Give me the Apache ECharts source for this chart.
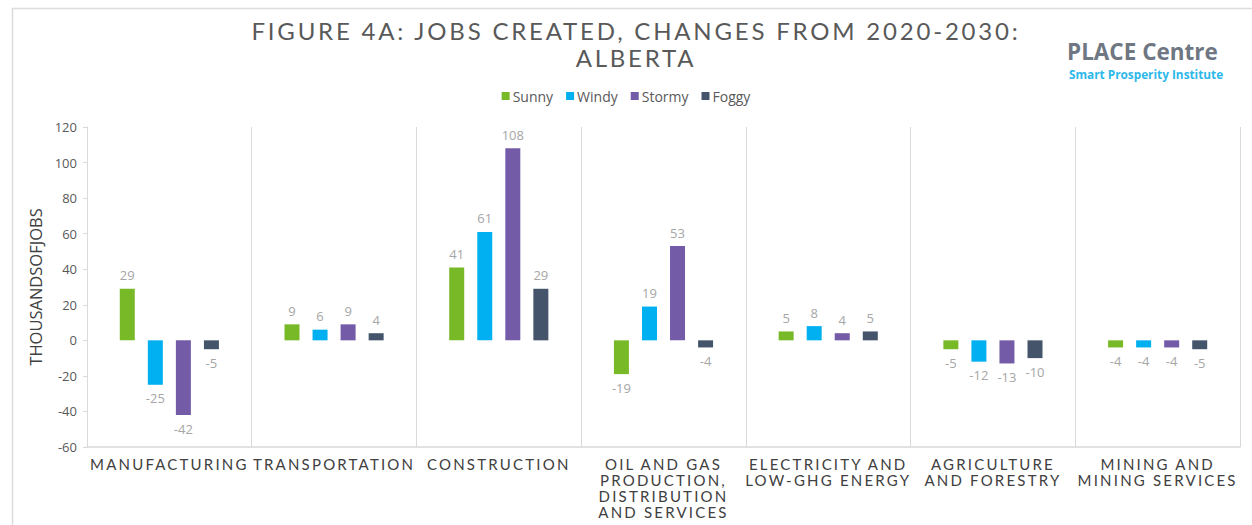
<!DOCTYPE html>
<html>
<head>
<meta charset="utf-8">
<script src="https://cdn.jsdelivr.net/npm/echarts@6/dist/echarts.min.js"></script>
<style>
  html, body { margin: 0; padding: 0; background: #ffffff; }
  #chart { width: 1252px; height: 525px; }
</style>
</head>
<body>
<div id="chart"></div>
<script>
// Sector categories (line breaks as they wrap under the axis)
const categories = [
  'MANUFACTURING',
  'TRANSPORTATION',
  'CONSTRUCTION',
  'OIL AND GAS\nPRODUCTION,\nDISTRIBUTION\nAND SERVICES',
  'ELECTRICITY AND\nLOW-GHG ENERGY',
  'AGRICULTURE\nAND FORESTRY',
  'MINING AND\nMINING SERVICES'
];

// Jobs created 2020-2030, thousands, per scenario
const sunny  = [29, 9, 41, -19, 5, -5, -4];
const windy  = [-25, 6, 61, 19, 8, -12, -4];
const stormy = [-42, 9, 108, 53, 4, -13, -4];
const foggy  = [-5, 4, 29, -4, 5, -10, -5];

// Y axis ticks
const yTicks = [-60, -40, -20, 0, 20, 40, 60, 80, 100, 120];

const seriesDefs = [
  { name: 'Sunny',  values: sunny,  color: '#78b928' },
  { name: 'Windy',  values: windy,  color: '#00b0f0' },
  { name: 'Stormy', values: stormy, color: '#735ba7' },
  { name: 'Foggy',  values: foggy,  color: '#44546a' }
];

const SPACED = 'Lato';

const chart = echarts.init(document.getElementById('chart'), null, { renderer: 'svg' });

const option = {
  animation: false,
  backgroundColor: '#ffffff',
  textStyle: { fontFamily: 'Open Sans' },
  graphic: [
    {
      type: 'rect', silent: true, z: -1,
      shape: { x: 12.5, y: 8.5, width: 1260, height: 540 },
      style: { fill: 'none', stroke: '#dcdcdc', lineWidth: 1.5 }
    },
    {
      type: 'text', x: 636, y: 18, silent: true,
      style: {
        text: 'FIGURE 4A: JOBS CREATED, CHANGES FROM 2020-2030:',
        fontFamily: SPACED, fontSize: 24,
        fill: '#595959', align: 'center', verticalAlign: 'top'
      }
    },
    {
      type: 'text', x: 636, y: 45, silent: true,
      style: {
        text: 'ALBERTA',
        fontFamily: SPACED, fontSize: 24,
        fill: '#595959', align: 'center', verticalAlign: 'top'
      }
    },
    {
      type: 'text', x: 1067, y: 40, silent: true,
      style: {
        text: 'PLACE Centre',
        fontFamily: 'Open Sans', fontWeight: 'bold', fontSize: 22.5,
        fill: '#6e7782', verticalAlign: 'top'
      }
    },
    {
      type: 'text', x: 1069, y: 68, silent: true,
      style: {
        text: 'Smart Prosperity Institute',
        fontFamily: 'Open Sans', fontWeight: 'bold', fontSize: 11.8,
        fill: '#2cb8ea', verticalAlign: 'top'
      }
    }
  ],
  legend: {
    top: 84, left: 'center',
    itemWidth: 8, itemHeight: 8, itemGap: 13,
    icon: 'rect',
    textStyle: { fontFamily: 'Open Sans', fontSize: 14, color: '#595959', padding: [0, 0, 0, -2] },
    data: seriesDefs.map(s => s.name)
  },
  grid: { left: 87, right: 12, top: 127, bottom: 78, containLabel: false },
  xAxis: [
    {
      type: 'category',
      data: categories,
      position: 'bottom',
      axisLine: { show: false },
      axisTick: { show: false },
      splitLine: { show: true, lineStyle: { color: '#d9d9d9', width: 1 } },
      axisLabel: {
        interval: 0, margin: 9,
        fontFamily: SPACED, fontSize: 15, lineHeight: 16,
        color: '#404040', align: 'center'
      }
    },
    {
      type: 'category',
      data: categories,
      position: 'bottom',
      axisLine: { show: true, onZero: true, lineStyle: { color: '#d9d9d9', width: 1.5 } },
      axisTick: { show: false },
      axisLabel: { show: false },
      splitLine: { show: false }
    }
  ],
  yAxis: {
    type: 'value',
    min: yTicks[0], max: yTicks[yTicks.length - 1], interval: 20,
    name: 'THOUSANDSOFJOBS',
    nameLocation: 'middle', nameRotate: 90, nameGap: 33,
    nameTextStyle: { fontFamily: 'Open Sans', fontSize: 16.5, color: '#404040' },
    axisLine: { show: true, lineStyle: { color: '#d9d9d9', width: 1 } },
    axisTick: { show: true, inside: false, length: 4, lineStyle: { color: '#d9d9d9' } },
    splitLine: { show: false },
    axisLabel: { fontFamily: 'Open Sans', fontSize: 13, color: '#595959', margin: 10 }
  },
  series: seriesDefs.map((s, i) => ({
    name: s.name,
    type: 'bar',
    xAxisIndex: 0,
    barWidth: 15,
    barGap: '87%',
    barCategoryGap: '40%',
    itemStyle: { color: s.color },
    label: {
      show: true, distance: 7,
      fontFamily: 'Open Sans', fontSize: 13, color: '#a6a6a6'
    },
    data: s.values.map(v => ({
      value: v,
      label: { position: v < 0 ? 'bottom' : 'top' }
    }))
  }))
};

chart.setOption(option);

// Widen the tracking of the display typeface (title and sector names)
function applyTracking() {
  const texts = document.querySelectorAll('#chart svg text');
  texts.forEach(t => {
    const ff = getComputedStyle(t).fontFamily || '';
    if (ff.indexOf(SPACED) >= 0) {
      const fs = parseFloat(getComputedStyle(t).fontSize) || 15;
      t.style.letterSpacing = (fs >= 20 ? 2.8 : 2.2) + 'px';
    }
  });
}
chart.on('finished', applyTracking);
applyTracking();
</script>
</body>
</html>
